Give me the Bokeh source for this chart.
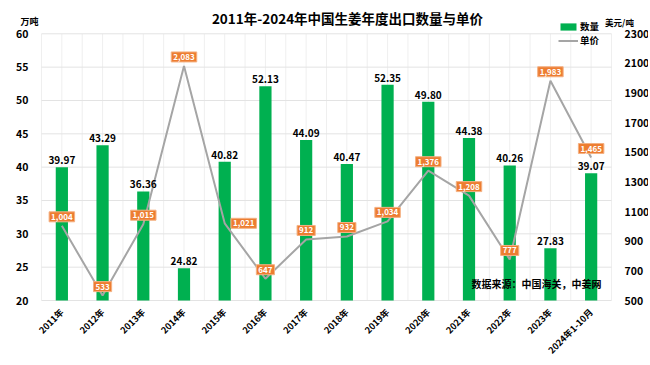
import math
from bokeh.plotting import figure
from bokeh.models import (Range1d, LinearAxis, FixedTicker, ColumnDataSource, Label,
                          Legend, LegendItem)
from bokeh.core.properties import value
from bokeh.embed import file_html
from bokeh.resources import INLINE

categories = ["2011年", "2012年", "2013年", "2014年", "2015年", "2016年", "2017年",
              "2018年", "2019年", "2020年", "2021年", "2022年", "2023年", "2024年1-10月"]
volume = [39.97, 43.29, 36.36, 24.82, 40.82, 52.13, 44.09, 40.47, 52.35, 49.80, 44.38, 40.26, 27.83, 39.07]
price = [1004, 533, 1015, 2083, 1021, 647, 912, 932, 1034, 1376, 1208, 777, 1983, 1465]
left_ticks = [20, 25, 30, 35, 40, 45, 50, 55, 60]
right_ticks = [500, 700, 900, 1100, 1300, 1500, 1700, 1900, 2100, 2300]

FONT = "Noto Sans CJK SC"
n = len(categories)
xs = list(range(n))

# canvas / plot-area geometry in pixels
W, H = 648, 362
PL, PR, PT, PB = 41.0, 611.0, 33.3, 300.0

x_lo, x_hi = -0.5, n - 0.5
y_lo, y_hi = left_ticks[0], left_ticks[-1]
r_lo, r_hi = right_ticks[0], right_ticks[-1]
xpp = (x_hi - x_lo) / (PR - PL)
ypp = (y_hi - y_lo) / (PB - PT)
rpp = (r_hi - r_lo) / (PB - PT)

def px2x(px):
    return x_lo + (px - PL) * xpp

def py2y(py):
    return y_lo + (PB - py) * ypp

p = figure(width=W, height=H, frame_width=W, frame_height=H,
           x_range=Range1d(px2x(0), px2x(W)),
           y_range=Range1d(py2y(H), py2y(0)),
           output_backend="svg", toolbar_location=None,
           min_border=0, min_border_left=0, min_border_right=0,
           min_border_top=0, min_border_bottom=0)
p.extra_y_ranges = {"price": Range1d(r_lo + (py2y(H) - y_lo) / ypp * rpp,
                                     r_lo + (py2y(0) - y_lo) / ypp * rpp)}
p.outline_line_color = None
p.background_fill_color = "white"
p.border_fill_color = "white"
p.xgrid.grid_line_color = None
p.ygrid.grid_line_color = None

# grid lines limited to the plot area
vx = [x_lo + k * 0.5 for k in range(2 * n + 1)]
p.segment(x0=vx, x1=vx, y0=[y_lo] * len(vx), y1=[y_hi] * len(vx),
          line_color="#EFEFEF", line_width=1)
p.segment(x0=[x_lo] * len(left_ticks), x1=[x_hi] * len(left_ticks),
          y0=left_ticks, y1=left_ticks, line_color="#E3E3E3", line_width=1)

def style_axis(ax, size):
    ax.axis_line_color = None
    ax.major_tick_line_color = None
    ax.minor_tick_line_color = None
    ax.major_label_text_font = FONT
    ax.major_label_text_font_style = "bold"
    ax.major_label_text_font_size = size
    ax.major_label_text_color = "#000000"

# left axis
p.yaxis.ticker = FixedTicker(ticks=left_ticks)
p.yaxis.fixed_location = x_lo
style_axis(p.yaxis[0], "10.5px")
p.yaxis.major_label_standoff = 7

# right axis
ra = LinearAxis(y_range_name="price", ticker=FixedTicker(ticks=right_ticks),
                fixed_location=x_hi)
style_axis(ra, "10.5px")
ra.major_label_standoff = 7
p.add_layout(ra, "right")

# x axis
p.xaxis.ticker = FixedTicker(ticks=xs)
p.xaxis.fixed_location = y_lo
p.xaxis.major_label_overrides = {i: c for i, c in zip(xs, categories)}
p.xaxis.major_label_orientation = math.pi / 4
style_axis(p.xaxis[0], "9px")
p.xaxis.major_label_standoff = 4

src = ColumnDataSource(dict(x=xs, vol=volume, price=price,
                            vol_txt=[f"{v:.2f}" for v in volume]))

bars = p.vbar(x="x", top="vol", bottom=y_lo, width=0.3, source=src,
              fill_color="#00B050", line_color=None)
line = p.line(x="x", y="price", source=src, y_range_name="price",
              line_color="#A5A5A5", line_width=2)

p.text(x="x", y="vol", text="vol_txt", source=src, y_offset=-3,
       text_align="center", text_baseline="bottom",
       text_font=value(FONT), text_font_style="bold", text_font_size="10px",
       text_color="#000000")

for i, v in zip(xs, price):
    xo = 19 if categories[i] == "2015年" else 0
    yo = 0 if categories[i] == "2015年" else 9
    p.add_layout(Label(x=i, y=v, y_range_name="price", text=f"{v:,}",
                       x_offset=xo, y_offset=yo,
                       text_align="center", text_baseline="middle",
                       text_font=FONT, text_font_style="bold", text_font_size="8px",
                       text_color="white", background_fill_color="#ED7D31",
                       border_line_color="#F4B183", border_line_width=1, padding=2))

# title, units, source
def txt(px, py, s, size, align="center"):
    p.add_layout(Label(x=px2x(px), y=py2y(py), text=s,
                       text_align=align, text_baseline="middle",
                       text_font=FONT, text_font_style="bold", text_font_size=size,
                       text_color="#000000"))

txt(347, 17, "2011年-2024年中国生姜年度出口数量与单价", "13.5px")
txt(29, 21, "万吨", "9px")
txt(619, 21, "美元/吨", "8.5px")
txt(471, 283, "数据来源：中国海关，中姜网", "10px", align="left")

legend = Legend(items=[LegendItem(label="数量", renderers=[bars]),
                       LegendItem(label="单价", renderers=[line])],
                location=(558, H - 47), orientation="vertical",
                padding=0, margin=0, spacing=0,
                glyph_width=20, glyph_height=9, label_height=13, label_standoff=2,
                label_text_font=FONT, label_text_font_style="bold",
                label_text_font_size="9.5px", label_text_color="#000000",
                border_line_color=None, background_fill_alpha=0)
p.add_layout(legend)

open("out.html", "w").write(file_html(p, INLINE))
